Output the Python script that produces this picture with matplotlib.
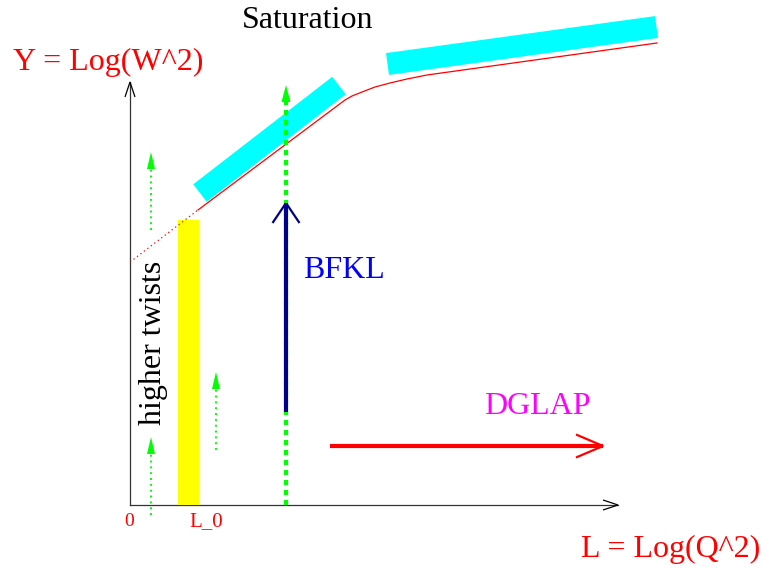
import matplotlib.pyplot as plt
import numpy as np
from matplotlib.patches import Polygon

# diagram coordinates (pixel-like units, y grows downward)
origin = (130, 505)
y_axis_tip = (130, 82)
x_axis_tip = (618, 505)

# red Y(L) curve: dotted part below L_0, solid part above
curve_dot_x = [130, 198]
curve_dot_y = [262, 210]
curve_x = [198, 345, 352, 362, 375, 390, 407, 427, 657]
curve_y = [210, 100, 96, 92, 87, 83, 79, 75, 43]

# cyan "saturation" bands: centre line start/end and thickness
band_starts = [(200, 193), (387.5, 64)]
band_ends = [(339, 85.5), (656.5, 27)]
band_width = [22, 22]

# yellow "higher twist" strip at L_0
strip_x = [178, 199]
strip_y = [220, 505]

# thin green dotted arrows (x, bottom, tip)
thin_arrows_x = [151, 151, 216]
thin_arrows_bottom = [515, 230, 450]
thin_arrows_tip = [437, 152, 372]

# thick green dotted arrow
thick_x = 286
thick_bottom = 505
thick_tip = 85

# BFKL arrow
bfkl_x = 286
bfkl_bottom = 412
bfkl_tip = 203

# DGLAP arrow
dglap_y = 446
dglap_start = 330
dglap_tip = 603

fig = plt.figure(figsize=(7.64, 5.68), dpi=100)
ax = fig.add_axes([0, 0, 1, 1])
ax.set_xlim(0, 764)
ax.set_ylim(568, 0)
ax.axis('off')

serif = 'Liberation Serif'


def open_head(ax, tip, back, half, color, lw):
    # V-shaped open arrow head
    tx, ty = tip
    bx, by = back
    d = np.array([tx - bx, ty - by], dtype=float)
    length = np.hypot(*d)
    d /= length
    n = np.array([-d[1], d[0]])
    p1 = np.array(tip) - d * length + n * half
    p2 = np.array(tip) - d * length - n * half
    ax.plot([p1[0], tx, p2[0]], [p1[1], ty, p2[1]], color=color, lw=lw,
            solid_joinstyle='miter', solid_capstyle='butt')


def filled_head(ax, x, tip, length, half, color):
    tri = Polygon([[x, tip], [x - half, tip + length], [x + half, tip + length]],
                  closed=True, color=color, lw=0)
    ax.add_patch(tri)


# axes
ax.plot([origin[0], y_axis_tip[0]], [origin[1], y_axis_tip[1]], color='#333333', lw=0.9)
ax.plot([origin[0], x_axis_tip[0]], [origin[1], x_axis_tip[1]], color='#333333', lw=0.9)
open_head(ax, y_axis_tip, (y_axis_tip[0], y_axis_tip[1] + 15), 5, '#000000', 0.9)
open_head(ax, x_axis_tip, (x_axis_tip[0] - 15, x_axis_tip[1]), 5, '#000000', 0.9)

# yellow strip
ax.fill_between(strip_x, strip_y[0], strip_y[1], color='#FFFF00', lw=0, zorder=2)

# cyan bands
for (x0, y0), (x1, y1), w in zip(band_starts, band_ends, band_width):
    ax.plot([x0, x1], [y0, y1], color='#00FFFF', lw=w * 0.72, solid_capstyle='butt', zorder=3)

# red curve
ax.plot(curve_dot_x, curve_dot_y, color='red', lw=0.9, ls=(0, (1, 2.5)), zorder=4)
ax.plot(curve_x, curve_y, color='red', lw=0.9, zorder=4)

# thin green arrows
for x, b, t in zip(thin_arrows_x, thin_arrows_bottom, thin_arrows_tip):
    ax.plot([x, x], [b, t + 14], color='#00FF00', lw=1.4, ls=(0, (1, 2)), zorder=4)
    filled_head(ax, x, t, 17, 4, '#00FF00')

# thick green arrow
ax.plot([thick_x, thick_x], [thick_bottom, thick_tip + 14], color='#00FF00', lw=3,
        ls=(0, (1.2, 1.2)), zorder=4)
filled_head(ax, thick_x, thick_tip, 17, 4.5, '#00FF00')

# BFKL arrow
ax.plot([bfkl_x, bfkl_x], [bfkl_bottom, bfkl_tip], color='#00008B', lw=3,
        solid_capstyle='butt', zorder=5)
open_head(ax, (bfkl_x, bfkl_tip), (bfkl_x, bfkl_tip + 20), 13.5, '#00008B', 1.6)

# DGLAP arrow
ax.plot([dglap_start, dglap_tip], [dglap_y, dglap_y], color='red', lw=3,
        solid_capstyle='butt', zorder=5)
open_head(ax, (dglap_tip, dglap_y), (dglap_tip - 27, dglap_y), 11.5, 'red', 1.6)

# labels
ax.text(308, 21, 'Saturation', family=serif, fontsize=23, color='black', ha='center', va='center')
ax.text(13, 62, 'Y = Log(W^2)', family=serif, fontsize=23, color='red', ha='left', va='center')
ax.text(344, 270, 'BFKL', family=serif, fontsize=23, color='#0000FF', ha='center', va='center')
ax.text(537, 407, 'DGLAP', family=serif, fontsize=23, color='#FF00FF', ha='center', va='center')
ax.text(153, 343, 'higher twists', family=serif, fontsize=23, color='black', rotation=90,
        ha='center', va='center')
ax.text(671, 549, 'L = Log(Q^2)', family=serif, fontsize=23, color='red', ha='center', va='center')
ax.text(129, 522, '0', family=serif, fontsize=14, color='red', ha='center', va='center')
ax.text(206, 522, 'L_0', family=serif, fontsize=15, color='red', ha='center', va='center')

fig.savefig('out.png', dpi=100)
